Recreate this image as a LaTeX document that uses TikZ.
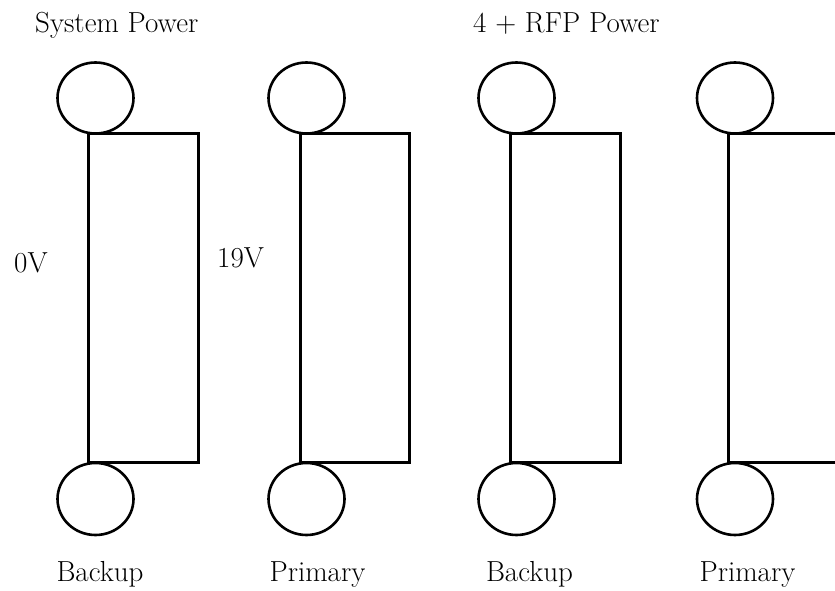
\documentclass[tikz,border=0pt]{standalone}
\usepackage{tikz}

\begin{document}
\begin{tikzpicture}[x=1pt,y=1pt,
  lbl/.style={inner sep=0pt,font=\fontsize{29}{34}\selectfont},
  box/.style={line width=3pt},
  ring/.style={line width=2.6pt}]
 \useasboundingbox (0,0) rectangle (835,590);
 \clip (0,0) rectangle (835,590);
 %% titles
 \node[lbl,anchor=base west] (syspow) at (35,557) {System Power};
 \node[lbl,anchor=base west] (rfppow) at (473,557) {4 + RFP Power};
 \node[lbl,anchor=base west] (zerov) at (14,318) {0V};
 \node[lbl,anchor=base west] (ninev) at (217,323) {19V};
 %% first pair
 \draw[box] (88.5,456)--++(110,0)--++(0,-328)--++(-110,0)--cycle;
 \draw[ring] (95.5,492) ellipse (38 and 35.5);
 \draw[ring] (95.5,91) ellipse (38 and 36);
 \node[lbl,anchor=base] (back1) at (100,9) {Backup};

 \draw[box] (300.5,456)--++(109,0)--++(0,-328)--++(-109,0)--cycle;
 \draw[ring] (306.5,492) ellipse (38 and 35.5);
 \draw[ring] (306.5,91) ellipse (38 and 36);
 \node[lbl,anchor=base] (prim1) at (317.5,9) {Primary};
 %% second pair
 \draw[box] (510.5,456)--++(110,0)--++(0,-328)--++(-110,0)--cycle;
 \draw[ring] (516.5,492) ellipse (38 and 35.5);
 \draw[ring] (516.5,91) ellipse (38 and 36);
 \node[lbl,anchor=base] (back2) at (529.5,9) {Backup};

 \draw[box] (728.5,456)--++(110,0)--++(0,-328)--++(-110,0)--cycle;
 \draw[ring] (735,492) ellipse (38 and 35.5);
 \draw[ring] (735,91) ellipse (38 and 36);
 \node[lbl,anchor=base] (prim2) at (747.5,9) {Primary};
\end{tikzpicture}
\end{document}
